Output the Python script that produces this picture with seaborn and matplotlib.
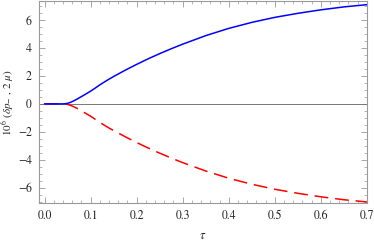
import numpy as np
import pandas as pd
import matplotlib
matplotlib.use("Agg")
import matplotlib.pyplot as plt
import seaborn as sns
from matplotlib.ticker import MultipleLocator

# values
tau = [0.0, 0.02, 0.04, 0.045, 0.05, 0.055, 0.06, 0.07, 0.08, 0.09, 0.10, 0.11,
       0.12, 0.13, 0.14, 0.15, 0.175, 0.20, 0.225, 0.25, 0.275, 0.30, 0.35,
       0.40, 0.45, 0.50, 0.55, 0.60, 0.65, 0.70]
upper = [0.0, 0.0, 0.0, 0.01, 0.04, 0.09, 0.16, 0.33, 0.52, 0.71, 0.91, 1.13,
         1.36, 1.57, 1.77, 1.96, 2.41, 2.83, 3.23, 3.60, 3.95, 4.28, 4.89,
         5.41, 5.84, 6.20, 6.49, 6.74, 6.95, 7.11]
lower = [0.0, 0.0, 0.0, -0.01, -0.04, -0.09, -0.15, -0.31, -0.50, -0.69, -0.88, -1.10,
         -1.32, -1.53, -1.73, -1.91, -2.35, -2.77, -3.16, -3.53, -3.88, -4.21, -4.81,
         -5.33, -5.76, -6.12, -6.41, -6.66, -6.87, -7.03]

df = pd.DataFrame({"tau": tau, "upper": upper, "lower": lower})

sns.set_style("ticks")
plt.rcParams["font.family"] = ["STIXGeneral", "DejaVu Serif"]
plt.rcParams["mathtext.fontset"] = "stix"

fig = plt.figure(figsize=(3.74, 2.44), dpi=100)
ax = fig.add_axes([0.1035, 0.166, 0.8775, 0.828])

ax.axhline(0, color="#777777", lw=0.7, zorder=1)
sns.lineplot(data=df, x="tau", y="upper", ax=ax, color="#0000ff", lw=1.1, zorder=3)
sns.lineplot(data=df, x="tau", y="lower", ax=ax, color="#ff0000", lw=1.1,
             zorder=2, dashes=False)
ax.lines[-1].set_dashes([9, 4.5])

ax.set_xlim(-0.0126, 0.70)
ax.set_ylim(-7.14, 7.34)

ax.xaxis.set_major_locator(MultipleLocator(0.1))
ax.xaxis.set_minor_locator(MultipleLocator(0.02))
ax.yaxis.set_minor_locator(MultipleLocator(0.5))
ax.set_xticks([0.0, 0.1, 0.2, 0.3, 0.4, 0.5, 0.6, 0.7])
ax.set_xticklabels(["0.0", "0.1", "0.2", "0.3", "0.4", "0.5", "0.6", "0.7"])
ax.set_yticks([-6, -4, -2, 0, 2, 4, 6])
ax.set_yticklabels(["\u22126", "\u22124", "\u22122", "0", "2", "4", "6"])

for s in ax.spines.values():
    s.set_color("#999999")
    s.set_linewidth(0.8)
ax.tick_params(which="both", direction="in", top=True, right=True,
               color="#999999", labelsize=8.5, labelcolor="#222222")
ax.tick_params(which="major", length=4, width=0.6, pad=5)
ax.tick_params(which="minor", length=2, width=0.5)

ax.set_xlabel(r"$\tau$", fontsize=9, labelpad=6)
ax.set_ylabel(r"$10^6\ (\delta p_{-}\ ,\, 2\ \mu)$", fontsize=8, labelpad=1)

fig.savefig("out.png", dpi=100)
